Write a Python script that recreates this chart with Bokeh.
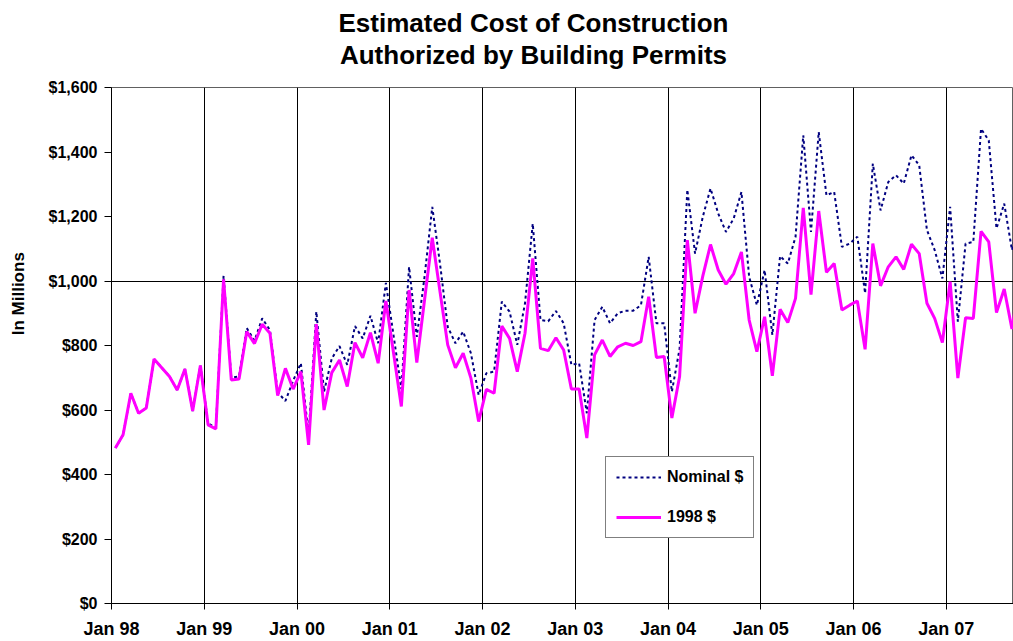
import math
from bokeh.plotting import figure
from bokeh.layouts import column, row
from bokeh.models import (FixedTicker, NumeralTickFormatter, Range1d, Legend,
                          LegendItem, ColumnDataSource)
from bokeh.core.properties import value
from bokeh.embed import file_html
from bokeh.resources import INLINE

# Monthly values, Jan 1998 .. Oct 2007 (millions of dollars)
real_1998 = [482, 523, 652, 590, 606, 758, 731, 704, 662, 727, 597, 738,
             554, 541, 1005, 693, 696, 843, 806, 866, 838, 645, 729, 665,
             719, 492, 866, 600, 716, 755, 673, 809, 762, 840, 745, 938,
             775, 611, 972, 747, 941, 1134, 967, 802, 731, 776, 699, 564,
             664, 652, 860, 822, 719, 838, 1070, 791, 784, 824, 786, 665,
             665, 513, 771, 817, 766, 796, 807, 800, 812, 951, 763, 766,
             575, 704, 1127, 900, 1015, 1113, 1034, 990, 1023, 1090, 879, 781,
             889, 706, 912, 871, 946, 1227, 958, 1217, 1027, 1054, 910, 925,
             938, 788, 1116, 985, 1044, 1075, 1036, 1114, 1085, 931, 884, 809,
             998, 699, 886, 884, 1154, 1121, 902, 975, 851, 1000]

nominal = [482, 523, 652, 590, 606, 758, 731, 704, 662, 727, 597, 738,
           558, 546, 1016, 700, 704, 854, 815, 884, 848, 655, 628, 691,
           745, 522, 905, 657, 760, 798, 740, 860, 822, 892, 807, 994,
           830, 665, 1044, 827, 1013, 1230, 1054, 858, 807, 843, 776, 647,
           714, 719, 936, 905, 802, 931, 1178, 879, 875, 907, 869, 740,
           745, 590, 879, 920, 869, 900, 908, 908, 925, 1075, 869, 869,
           657, 790, 1283, 1085, 1199, 1287, 1209, 1152, 1194, 1276, 1013, 925,
           1034, 833, 1077, 1054, 1137, 1452, 1152, 1462, 1266, 1276, 1106, 1116,
           1137, 962, 1364, 1219, 1307, 1328, 1302, 1390, 1359, 1158, 1096, 1008,
           1230, 874, 1116, 1121, 1472, 1436, 1163, 1240, 1096, 1200]

month_index = list(range(len(real_1998)))
tick_labels = ["Jan 98", "Jan 99", "Jan 00", "Jan 01", "Jan 02",
               "Jan 03", "Jan 04", "Jan 05", "Jan 06", "Jan 07"]
y_ticks = [0, 200, 400, 600, 800, 1000, 1200, 1400, 1600]
title_lines = ["Estimated Cost of Construction", "Authorized by Building Permits"]
y_title = "In Millions"
series_names = ["Nominal $", "1998 $"]

FONT = "Liberation Sans"
TOP_H = 73      # height of the title strip
LEFT_W = 30     # width of the strip holding the y-axis title
TOTAL_W, TOTAL_H = 1013, 641


def drop_title(f):
    try:
        f.title_location = None
    except Exception:
        f.title.text = ""
        f.title.text_font_size = "0px"
        f.title.standoff = 0


# ---------------- title strip ----------------
top = figure(width=TOTAL_W, height=TOP_H, output_backend="svg",
             toolbar_location=None, x_axis_type=None, y_axis_type=None,
             x_range=Range1d(0, TOTAL_W), y_range=Range1d(TOP_H, 0),
             min_border=0, outline_line_color=None,
             background_fill_color="white", border_fill_color="white")
drop_title(top)
top.text(x=[533, 533], y=[22, 54], text=title_lines, text_align="center",
         text_baseline="middle", text_font=value(FONT),
         text_font_size="26px", text_font_style="bold", text_color="black")

# ---------------- y-axis title strip ----------------
left_h = TOTAL_H - TOP_H
left = figure(width=LEFT_W, height=left_h, output_backend="svg",
              toolbar_location=None, x_axis_type=None, y_axis_type=None,
              x_range=Range1d(0, LEFT_W), y_range=Range1d(left_h, 0),
              min_border=0, outline_line_color=None,
              background_fill_color="white", border_fill_color="white")
drop_title(left)
left.text(x=[18], y=[300 - TOP_H], text=[y_title], angle=math.pi / 2,
          text_align="center", text_baseline="middle", text_font=value(FONT),
          text_font_size="17px", text_font_style="bold", text_color="black")

# ---------------- main chart ----------------
src = ColumnDataSource(dict(x=[m + 0.5 for m in month_index],
                            real=real_1998, nominal=nominal))
tick_pos = [12 * k for k in range(len(tick_labels))]

fig = figure(width=TOTAL_W - LEFT_W, height=left_h, output_backend="svg",
             toolbar_location=None,
             x_range=Range1d(0, 116.7), y_range=Range1d(0, 1600),
             min_border_left=111 - LEFT_W, min_border_right=0,
             min_border_top=87 - TOP_H, min_border_bottom=37,
             background_fill_color="white", border_fill_color="white")
drop_title(fig)
fig.outline_line_color = "#606060"
fig.outline_line_width = 1

fig.xaxis.ticker = FixedTicker(ticks=tick_pos)
fig.xaxis.major_label_overrides = {t: l for t, l in zip(tick_pos, tick_labels)}
fig.xaxis.minor_tick_line_color = None
fig.xaxis.major_tick_out = 6
fig.xaxis.major_tick_in = 0
fig.xaxis.axis_line_color = "black"
fig.xaxis.major_tick_line_color = "black"
fig.xaxis.major_label_text_font = FONT
fig.xaxis.major_label_text_font_size = "18px"
fig.xaxis.major_label_text_font_style = "bold"
fig.xaxis.major_label_text_color = "black"
fig.xaxis.major_label_standoff = 9

fig.yaxis.ticker = FixedTicker(ticks=y_ticks)
fig.yaxis.formatter = NumeralTickFormatter(format="$0,0")
fig.yaxis.minor_tick_line_color = None
fig.yaxis.major_tick_out = 7
fig.yaxis.major_tick_in = 0
fig.yaxis.axis_line_color = "black"
fig.yaxis.major_tick_line_color = "black"
fig.yaxis.major_label_text_font = FONT
fig.yaxis.major_label_text_font_size = "16px"
fig.yaxis.major_label_text_font_style = "bold"
fig.yaxis.major_label_text_color = "black"
fig.yaxis.major_label_standoff = 7

fig.xgrid.ticker = FixedTicker(ticks=tick_pos[1:])
fig.xgrid.grid_line_color = "black"
fig.xgrid.grid_line_width = 1
fig.ygrid.ticker = FixedTicker(ticks=[1000])
fig.ygrid.grid_line_color = "black"
fig.ygrid.grid_line_width = 1

r_nom = fig.line("x", "nominal", source=src, line_color="#000080",
                 line_width=2, line_dash="3 3")
r_real = fig.line("x", "real", source=src, line_color="#FF00FF", line_width=3)

legend = Legend(items=[LegendItem(label=series_names[0], renderers=[r_nom]),
                       LegendItem(label=series_names[1], renderers=[r_real])],
                location=(494, 65), orientation="vertical",
                border_line_color="black", border_line_width=1,
                background_fill_color="white", background_fill_alpha=1.0,
                label_text_font=FONT, label_text_font_size="16px",
                label_text_font_style="bold", label_text_color="black",
                label_height=20, glyph_height=20, glyph_width=45,
                label_standoff=6, padding=10, spacing=20, margin=0)
fig.add_layout(legend, "center")

p = column(top, row(left, fig, spacing=0), spacing=0)

open("out.html", "w").write(file_html(p, INLINE))
